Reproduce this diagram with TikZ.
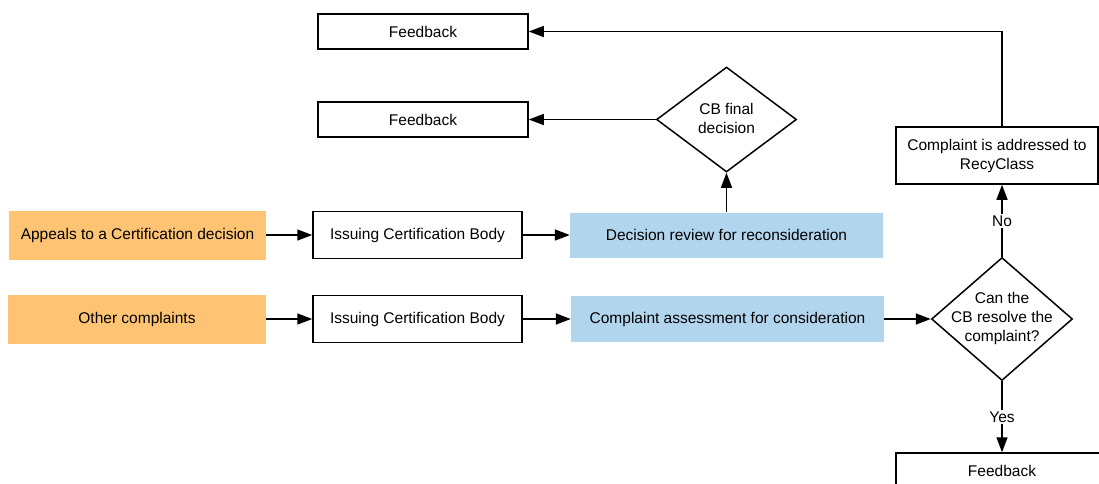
\documentclass[tikz,border=0pt]{standalone}
\usepackage{fontspec}
\setmainfont{Liberation Sans}
\usetikzlibrary{arrows.meta,shapes.geometric}
\definecolor{orangebox}{RGB}{255,196,115}
\definecolor{bluebox}{RGB}{178,213,238}
\tikzset{
  x=1pt,y=-1pt,
  every node/.style={font=\fontsize{15.5}{19}\selectfont, align=center, inner sep=0pt},
  wbox/.style={draw=black, line width=1.5pt, fill=white},
  obox/.style={fill=orangebox},
  bbox/.style={fill=bluebox},
  diam/.style={draw=black, line width=1.5pt, diamond, fill=white},
  conn/.style={line width=1.5pt, -{Triangle[length=15pt,width=11pt]}},
  lbl/.style={fill=white, inner sep=1.5pt}
}
\begin{document}
\begin{tikzpicture}
\useasboundingbox (0,0) rectangle (1099,483);
% left column
\node[obox, minimum width=257, minimum height=49] (a1) at (137.5,235) {Appeals to a Certification decision};
\node[obox, minimum width=258, minimum height=49] (a2) at (137,319) {Other complaints};
\node[wbox, minimum width=209, minimum height=47] (i1) at (417.5,235) {Issuing Certification Body};
\node[wbox, minimum width=209, minimum height=47] (i2) at (417.5,319) {Issuing Certification Body};
\node[bbox, minimum width=313, minimum height=45] (b1) at (726.5,235) {Decision review for reconsideration};
\node[bbox, minimum width=313, minimum height=46] (b2) at (727.5,319) {Complaint assessment for consideration};
% top
\node[wbox, minimum width=210, minimum height=35] (f1) at (423,31.5) {Feedback};
\node[wbox, minimum width=210, minimum height=35] (f2) at (423,119.5) {Feedback};
\node[diam, minimum width=140, minimum height=105] (d1) at (726.5,119.5) {};
\node (d1t) at (726.5,118.5) {CB final\\decision};
% right column
\node[wbox, minimum width=202, minimum height=57] (c) at (997,155.5) {Complaint is addressed to\\RecyClass};
\node[diam, minimum width=141, minimum height=123] (d2) at (1002,319) {};
\node (d2t) at (1002,318) {Can the\\CB resolve the\\complaint?};
\node[wbox, minimum width=212, minimum height=36] (f3) at (1002,471) {Feedback};
% connectors
\draw[conn] (a1.east) -- (i1.west);
\draw[conn] (a2.east) -- (i2.west);
\draw[conn] (i1.east) -- (b1.west);
\draw[conn] (i2.east) -- (b2.west);
\draw[conn] (b1.north) -- (d1.south);
\draw[conn] (d1.west) -- (f2.east);
\draw[conn] (b2.east) -- (d2.west);
\draw[conn] (d2.north) -- node[lbl] {No} (d2.north |- c.south);
\draw[conn] (d2.south) -- node[lbl] {Yes} (f3.north);
\draw[conn] (d2.north |- c.north) |- (f1.east);
\end{tikzpicture}
\end{document}
